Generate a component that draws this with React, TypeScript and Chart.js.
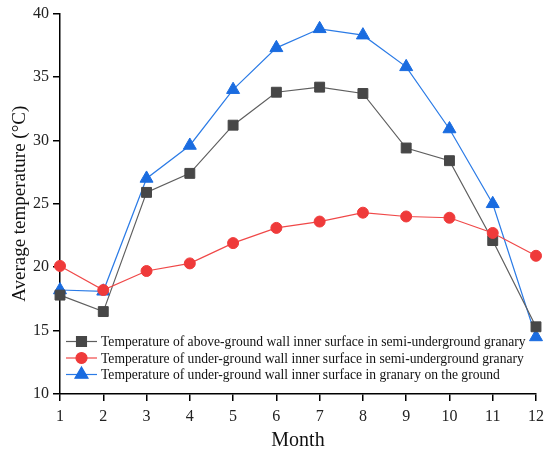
import { useEffect, useRef } from "react"
import { Chart, registerables, type ChartOptions, type Plugin } from "chart.js"
import { drawPoint } from "chart.js/helpers"

Chart.register(...registerables)

const months = ["1", "2", "3", "4", "5", "6", "7", "8", "9", "10", "11", "12"]

const aboveGroundSemi = [17.8, 16.5, 25.9, 27.4, 31.2, 33.8, 34.2, 33.7, 29.4, 28.4, 22.1, 15.3]
const underGroundSemi = [20.1, 18.2, 19.7, 20.3, 21.9, 23.1, 23.6, 24.3, 24.0, 23.9, 22.7, 20.9]
const underGroundOnGround = [18.2, 18.1, 27.0, 29.6, 34.0, 37.3, 38.8, 38.3, 35.8, 30.9, 25.0, 14.5]

const yTicks = [10, 15, 20, 25, 30, 35, 40]

const FONT = "'Liberation Serif', 'Times New Roman', serif"

// legend drawn inside the plot, bottom left, line + marker like the original
const insideLegend: Plugin<"line"> = {
  id: "insideLegend",
  afterDraw(chart) {
    const { ctx, chartArea } = chart
    const rows = [chartArea.bottom - 52.5, chartArea.bottom - 36, chartArea.bottom - 19.5]
    const x0 = chartArea.left + 6
    const x1 = x0 + 31
    ctx.save()
    chart.data.datasets.forEach((ds: any, i) => {
      const y = rows[i]
      ctx.strokeStyle = ds.borderColor
      ctx.lineWidth = 1.2
      ctx.beginPath()
      ctx.moveTo(x0, y)
      ctx.lineTo(x1, y)
      ctx.stroke()
      ctx.fillStyle = ds.pointBackgroundColor
      ctx.strokeStyle = ds.pointBorderColor
      drawPoint(ctx, { pointStyle: ds.pointStyle, rotation: 0, radius: ds.pointRadius, borderWidth: 1 }, (x0 + x1) / 2, y)
      ctx.fillStyle = "#111"
      ctx.font = `13.6px ${FONT}`
      ctx.textBaseline = "middle"
      ctx.textAlign = "left"
      ctx.fillText(ds.label, x1 + 4, y + 1)
    })
    ctx.restore()
  },
}

export default function App() {
  const chartRef = useRef<HTMLCanvasElement>(null)
  const chartInstance = useRef<Chart | null>(null)

  useEffect(() => {
    document.body.style.margin = "0"
    if (!chartRef.current) return
    const ctx = chartRef.current.getContext("2d")
    if (!ctx) return

    if (chartInstance.current) {
      chartInstance.current.destroy()
    }

    const options: ChartOptions<"line"> = {
      responsive: true,
      maintainAspectRatio: false,
      animation: false,
      layout: { padding: { top: 10, right: 14, left: 0, bottom: 0 } },
      plugins: {
        legend: { display: false },
        tooltip: { enabled: false },
      },
      scales: {
        x: {
          offset: false,
          afterFit: (s) => {
            s.height = 60
          },
          grid: { drawOnChartArea: false, drawTicks: true, tickLength: 7, color: "#000", lineWidth: 1.5 },
          border: { display: true, color: "#000", width: 1.5 },
          ticks: { color: "#222", padding: 6, font: { family: FONT, size: 16 } },
          title: {
            display: true,
            text: "Month",
            color: "#111",
            font: { family: FONT, size: 20 },
            padding: { top: 0, bottom: 1 },
          },
        },
        y: {
          min: 10,
          max: 40,
          afterFit: (s) => {
            s.width = 60
          },
          afterBuildTicks: (s) => {
            s.ticks = yTicks.map((v) => ({ value: v }))
          },
          grid: { drawOnChartArea: false, drawTicks: true, tickLength: 7, color: "#000", lineWidth: 1.5 },
          border: { display: true, color: "#000", width: 1.5 },
          ticks: { color: "#222", padding: 4, font: { family: FONT, size: 16 } },
          title: {
            display: true,
            text: "Average temperature (°C)",
            color: "#111",
            font: { family: FONT, size: 19 },
            padding: { top: 9, bottom: 0 },
          },
        },
      },
    }

    chartInstance.current = new Chart(ctx, {
      type: "line",
      data: {
        labels: months,
        datasets: [
          {
            label: "Temperature of above-ground wall inner surface in semi-underground granary",
            data: aboveGroundSemi,
            borderColor: "#5e5e5e",
            borderWidth: 1.2,
            pointStyle: "rect",
            pointRadius: 7,
            pointBackgroundColor: "#474747",
            pointBorderColor: "#474747",
            pointBorderWidth: 1,
            clip: false,
            order: 2,
          },
          {
            label: "Temperature of under-ground wall inner surface in semi-underground granary",
            data: underGroundSemi,
            borderColor: "#f04848",
            borderWidth: 1.2,
            pointStyle: "circle",
            pointRadius: 5.5,
            pointBackgroundColor: "#ef3a3a",
            pointBorderColor: "#ef3a3a",
            pointBorderWidth: 1,
            clip: false,
            order: 1,
          },
          {
            label: "Temperature of under-ground wall inner surface in granary on the ground",
            data: underGroundOnGround,
            borderColor: "#2b7be6",
            borderWidth: 1.2,
            pointStyle: "triangle",
            pointRadius: 7.5,
            pointBackgroundColor: "#1a6ce0",
            pointBorderColor: "#1a6ce0",
            pointBorderWidth: 1,
            clip: false,
            order: 3,
          },
        ],
      },
      options,
      plugins: [insideLegend],
    })

    return () => {
      if (chartInstance.current) {
        chartInstance.current.destroy()
        chartInstance.current = null
      }
    }
  }, [])

  return (
    <div style={{ position: "relative", width: 550, height: 454, background: "#fff" }}>
      <canvas ref={chartRef} />
    </div>
  )
}
